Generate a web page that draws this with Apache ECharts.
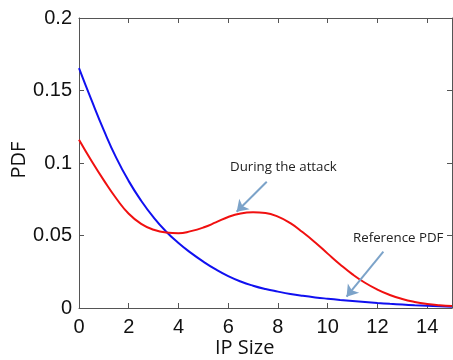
<!DOCTYPE html>
<html>
<head>
<meta charset="utf-8">
<script src="https://cdn.jsdelivr.net/npm/echarts@6/dist/echarts.min.js"></script>
<style>
  html, body { margin: 0; padding: 0; background: #fff; }
  #chart { width: 453px; height: 360px; }
</style>
</head>
<body>
<div id="chart"></div>
<script>
// IP size samples (x) and the two PDF curves
const ipSize = [0, 0.5, 1, 1.5, 2, 2.5, 3, 3.5, 4, 4.5, 5, 5.5, 6, 6.5, 7, 7.5,
  8, 8.5, 9, 9.5, 10, 10.5, 11, 11.5, 12, 12.5, 13, 13.5, 14, 14.5, 15]

const referencePdf = [0.1655, 0.1435, 0.1225, 0.1035, 0.0875, 0.074, 0.0625,
  0.0528, 0.0448, 0.038, 0.032, 0.0266, 0.022, 0.0183, 0.0154, 0.0131, 0.0113,
  0.0097, 0.0084, 0.0073, 0.0064, 0.0056, 0.0049, 0.0042, 0.0035, 0.0029,
  0.0024, 0.0019, 0.0015, 0.0012, 0.0009]

const attackPdf = [0.116, 0.1015, 0.088, 0.0755, 0.065, 0.058, 0.054, 0.052,
  0.0515, 0.053, 0.0555, 0.059, 0.0628, 0.0652, 0.066, 0.0655, 0.063, 0.0585,
  0.0522, 0.0452, 0.0375, 0.03, 0.0232, 0.0174, 0.0127, 0.009, 0.0062,
  0.0042, 0.0028, 0.0019, 0.0013]

const xTicks = { min: 0, max: 15, interval: 2 }
const yTicks = { min: 0, max: 0.2, interval: 0.05 }

// annotation arrows: [from, to] in data units
const attackArrow = [[7.55, 0.0871], [6.34, 0.0664]]
const referenceArrow = [[12.24, 0.0388], [10.76, 0.0078]]

const AXIS = "#555"
const ARROW = "#7ca3c9"

const chart = echarts.init(document.getElementById("chart"))

function boxAxis(extra) {
  return Object.assign({
    type: "value",
    axisLine: { show: true, onZero: false, lineStyle: { color: AXIS, width: 1 } },
    axisTick: { show: true, inside: true, length: 5, lineStyle: { color: AXIS } },
    splitLine: { show: false },
  }, extra)
}

const tickFont = { color: "#111", fontSize: 20, fontFamily: "Liberation Sans" }

chart.setOption({
  animation: false,
  backgroundColor: "#fff",
  grid: { left: 79, right: 1, top: 18, bottom: 52 },
  xAxis: [
    boxAxis({
      position: "bottom", ...xTicks,
      axisLabel: { ...tickFont, margin: 9, showMaxLabel: false },
    }),
    boxAxis({ position: "top", ...xTicks, axisLabel: { show: false } }),
  ],
  yAxis: [
    boxAxis({
      position: "left", ...yTicks,
      axisLabel: { ...tickFont, margin: 7 },
    }),
    boxAxis({ position: "right", ...yTicks, axisLabel: { show: false } }),
  ],
  series: [
    {
      name: "Reference PDF",
      type: "line",
      smooth: true,
      showSymbol: false,
      data: ipSize.map((x, i) => [x, referencePdf[i]]),
      lineStyle: { color: "#1010f0", width: 2 },
      markLine: {
        silent: true,
        symbol: ["none", "arrow"],
        symbolSize: 11,
        label: { show: false },
        lineStyle: { color: ARROW, width: 2, type: "solid" },
        data: [
          [{ coord: referenceArrow[0] }, { coord: referenceArrow[1] }],
        ],
      },
    },
    {
      name: "During the attack",
      type: "line",
      smooth: true,
      showSymbol: false,
      data: ipSize.map((x, i) => [x, attackPdf[i]]),
      lineStyle: { color: "#f01010", width: 2 },
      markLine: {
        silent: true,
        symbol: ["none", "arrow"],
        symbolSize: 11,
        label: { show: false },
        lineStyle: { color: ARROW, width: 2, type: "solid" },
        data: [
          [{ coord: attackArrow[0] }, { coord: attackArrow[1] }],
        ],
      },
    },
  ],
  graphic: [
    {
      type: "text", left: 215, top: 338,
      style: { text: "IP Size", font: "20px 'Open Sans'", fill: "#111" },
    },
    {
      type: "text", x: 19, y: 160, rotation: Math.PI / 2,
      style: {
        text: "PDF", font: "20px 'Open Sans'", fill: "#111",
        align: "center", verticalAlign: "middle",
      },
    },
    {
      type: "text", left: 230, top: 161,
      style: { text: "During the attack", font: "13.3px 'Open Sans'", fill: "#222" },
    },
    {
      type: "text", left: 353, top: 232,
      style: { text: "Reference PDF", font: "13.3px 'Open Sans'", fill: "#222" },
    },
  ],
})
</script>
</body>
</html>
